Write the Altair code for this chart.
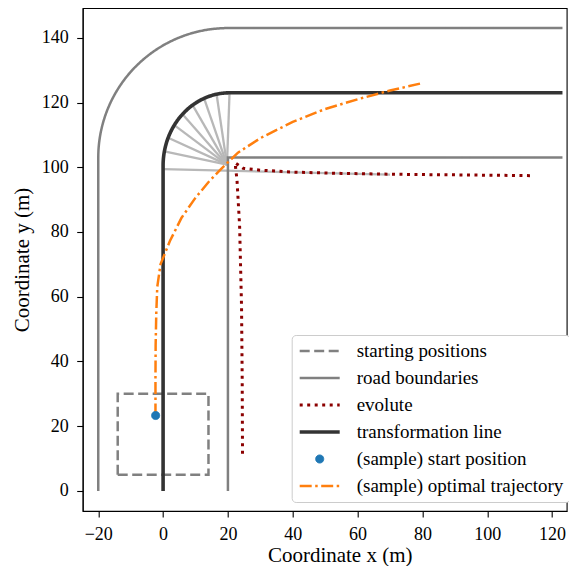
import altair as alt
import numpy as np
import pandas as pd

# ---------------- data ----------------
SERIES = ["starting positions", "road boundaries", "evolute", "transformation line",
          "(sample) start position", "(sample) optimal trajectory"]
COLORS = ["#808080", "#808080", "#8b0000", "#333333", "#1f77b4", "#ff7f0e"]
DASHES = [[10, 4.5], [1, 0], [3, 4.5], [1, 0], [1, 0], [12, 3.5, 2.5, 3.5]]
WIDTHS = [2.5, 2.5, 3, 3.6, 1, 2.5]
SHAPES = ["stroke", "stroke", "stroke", "stroke", "circle", "stroke"]
SIZES = [1600, 1600, 1600, 1600, 65, 1600]
FILLS = ["transparent", "transparent", "transparent", "transparent", "#1f77b4", "transparent"]

X_TICKS = [-20, 0, 20, 40, 60, 80, 100, 120]
Y_TICKS = [0, 20, 40, 60, 80, 100, 120, 140]

# starting positions box
box_x = [-14, 14, 14, -14, -14]
box_y = [5, 5, 30, 30, 5]

# road boundaries: outer (vertical, rounded corner, horizontal) and inner corner
road_outer_center = (20, 103)
road_outer_radius = 40
road_outer_vertical_x = [-20, -20]
road_outer_vertical_y = [0, 103]
road_outer_top_x = [20, 123.2]
road_outer_top_y = [143, 143]
road_inner_x = [20, 20, 123.2]
road_inner_y = [0, 103, 103]

# transformation line: vertical, curve, horizontal
trans_center = (20.5, 100.5)
trans_rx, trans_ry = 20.5, 22.5
trans_vertical_x = [0, 0]
trans_vertical_y = [0, 100.5]
trans_top_x = [20.5, 123.2]
trans_top_y = [123, 123]

# normal rays (light grey)
ray_angles_deg = [90, 101.25, 112.5, 123.75, 135, 146.25, 157.5, 168.75]
ray_end = (19.7, 100.8)
long_ray_x = [0, 70]
long_ray_y = [99.4, 97.7]

# evolute (dotted)
evo_x = [24.5, 24.4, 24.2, 23.6, 22.8, 22.2, 24.7, 30, 40, 55, 74, 95, 114]
evo_y = [11.5, 35, 57, 82, 96, 101.4, 99.7, 99.1, 98.5, 98.1, 97.8, 97.6, 97.4]

# sample start position and optimal trajectory
start_x, start_y = [-2.3], [23.3]
traj_x = [-2.35, -2.35, -2.3, -2.1, -1.8, -0.8, 2.1, 5.7, 9.8, 13.9, 18.0, 23.1,
          30, 40, 50, 60, 70, 80]
traj_y = [23.3, 35, 45, 55, 63, 70, 77.2, 84.4, 90.3, 95.3, 99.6, 104.5,
          109, 114, 118, 121, 123.7, 126]

# ---------------- build tables ----------------
rows = []


def add(series, seg, xs, ys):
    for i, (xv, yv) in enumerate(zip(xs, ys)):
        rows.append({"series": series, "seg": seg, "ord": i, "x": xv, "y": yv})


add("starting positions", "box", box_x, box_y)

t = np.linspace(np.pi, np.pi / 2, 60)
ox = list(road_outer_vertical_x) + list(road_outer_center[0] + road_outer_radius * np.cos(t)) + road_outer_top_x
oy = list(road_outer_vertical_y) + list(road_outer_center[1] + road_outer_radius * np.sin(t)) + road_outer_top_y
add("road boundaries", "outer", ox, oy)
add("road boundaries", "inner", road_inner_x, road_inner_y)

add("evolute", "evo", evo_x, evo_y)

tx = list(trans_vertical_x) + list(trans_center[0] + trans_rx * np.cos(t)) + trans_top_x
ty = list(trans_vertical_y) + list(trans_center[1] + trans_ry * np.sin(t)) + trans_top_y
add("transformation line", "trans", tx, ty)

add("(sample) optimal trajectory", "traj", traj_x, traj_y)
lines = pd.DataFrame(rows)

ray_rows = []
for k, a in enumerate(ray_angles_deg):
    r = np.deg2rad(a)
    ray_rows.append({"ray": k, "ord": 0, "x": trans_center[0] + trans_rx * np.cos(r),
                     "y": trans_center[1] + trans_ry * np.sin(r)})
    ray_rows.append({"ray": k, "ord": 1, "x": ray_end[0], "y": ray_end[1]})
for i, (xv, yv) in enumerate(zip(long_ray_x, long_ray_y)):
    ray_rows.append({"ray": 99, "ord": i, "x": xv, "y": yv})
rays = pd.DataFrame(ray_rows)

pts = pd.DataFrame({"x": start_x, "y": start_y, "series": ["(sample) start position"]})

# ---------------- chart ----------------
FONT = "Liberation Serif"
leg = alt.Legend(title=None, orient="none", legendX=209, legendY=327, padding=6,
                 fillColor="white", strokeColor="#cccccc", cornerRadius=4,
                 labelFont=FONT, labelFontSize=19, labelColor="black",
                 labelOffset=15, rowPadding=7, clipHeight=20, symbolLimit=0,
                 labelLimit=400)

xs = alt.Scale(domain=[-24.8, 124.5], nice=False, zero=False)
ys = alt.Scale(domain=[-6.2, 149.2], nice=False, zero=False)
xenc = alt.X("x:Q", scale=xs, axis=alt.Axis(values=X_TICKS, title="Coordinate x (m)", titleX=257))
yenc = alt.Y("y:Q", scale=ys, axis=alt.Axis(values=Y_TICKS, title="Coordinate y (m)"))

stroke_enc = alt.Stroke("series:N", scale=alt.Scale(domain=SERIES, range=COLORS), legend=leg)
dash_enc = alt.StrokeDash("series:N", scale=alt.Scale(domain=SERIES, range=DASHES), legend=leg)
width_enc = alt.StrokeWidth("series:N", scale=alt.Scale(type="ordinal", domain=SERIES, range=WIDTHS), legend=leg)

ray_layer = alt.Chart(rays).mark_line(color="#b8b8b8", strokeWidth=2.3, clip=True).encode(
    x=xenc, y=yenc, detail="ray:N", order="ord:Q")

line_layer = alt.Chart(lines).mark_line(clip=True, strokeCap="butt").encode(
    x=xenc, y=yenc, detail="seg:N", order="ord:Q",
    stroke=stroke_enc, strokeDash=dash_enc, strokeWidth=width_enc)

pt_layer = alt.Chart(pts).mark_point(filled=True, opacity=1, clip=True).encode(
    x=xenc, y=yenc,
    shape=alt.Shape("series:N", scale=alt.Scale(domain=SERIES, range=SHAPES), legend=leg),
    fill=alt.Fill("series:N", scale=alt.Scale(domain=SERIES, range=FILLS), legend=leg),
    stroke=stroke_enc,
    size=alt.Size("series:N", scale=alt.Scale(type="ordinal", domain=SERIES, range=SIZES), legend=leg),
    strokeWidth=width_enc,
    strokeDash=dash_enc,
)

chart = alt.layer(ray_layer, line_layer, pt_layer).properties(
    width=484, height=503,
    autosize=alt.AutoSizeParams(type="none"),
    padding={"left": 74.7, "top": 0, "right": 2, "bottom": 55},
).configure_view(stroke="black", strokeWidth=1.1).configure_axis(
    grid=False, domainColor="black", domainWidth=1.1, tickColor="black", tickWidth=1.1,
    tickSize=6, labelFont=FONT, labelFontSize=18, labelColor="black",
    titleFont=FONT, titleFontSize=21, titleFontWeight="normal", titleColor="black",
).configure_axisX(labelPadding=8.5, titlePadding=1).configure_axisY(labelPadding=8.5, titlePadding=9)

chart.save("out.html", embed_options={"renderer": "svg", "actions": False})
